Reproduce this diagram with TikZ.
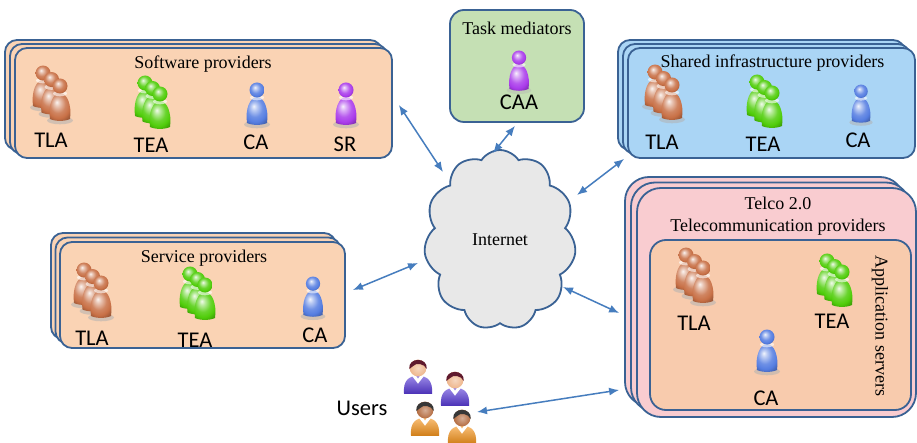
\documentclass[tikz,border=0pt]{standalone}
\usepackage{fontspec}
\setmainfont{Liberation Serif}
\newfontfamily\lblfont{Carlito}
\usetikzlibrary{arrows.meta,shadows,shapes.symbols,calc}

\definecolor{edge}{RGB}{58,98,148}
\definecolor{peach}{RGB}{250,211,180}
\definecolor{appfill}{RGB}{248,203,173}
\definecolor{mint}{RGB}{197,224,180}
\definecolor{sky}{RGB}{170,213,245}
\definecolor{rose}{RGB}{249,204,208}
\definecolor{cloudfill}{RGB}{232,232,232}
\definecolor{link}{RGB}{70,125,190}
\definecolor{tlabrown}{RGB}{200,112,70}
\definecolor{teagreen}{RGB}{80,205,10}
\definecolor{cablue}{RGB}{85,125,225}
\definecolor{srpurple}{RGB}{170,60,235}
\definecolor{shirtblue}{RGB}{88,58,215}
\definecolor{shirtorange}{RGB}{245,148,28}
\definecolor{hairred}{RGB}{95,25,45}
\definecolor{hairgrey}{RGB}{55,55,55}
\definecolor{skinlight}{RGB}{238,182,140}
\definecolor{skindark}{RGB}{180,108,65}
\colorlet{pawnc}{cablue}

% glossy sphere-like shading whose colour follows pawnc
\pgfdeclareradialshading[pawnc]{glossy}{\pgfpoint{-7bp}{9bp}}{%
  color(0bp)=(pawnc!8!white); color(6bp)=(pawnc!40!white);
  color(16bp)=(pawnc!85!white); color(24bp)=(pawnc);
  color(30bp)=(pawnc!80!black); color(50bp)=(pawnc!65!black)}

\tikzset{
  panel/.style={draw=edge, line width=1.8pt, rounded corners=#1, inner sep=0pt},
  stack/.style n args={5}{
    copy shadow={shadow xshift=#1, shadow yshift=#2, fill=#5, draw=edge, line width=1.8pt},
    copy shadow={shadow xshift=#3, shadow yshift=#4, fill=#5, draw=edge, line width=1.8pt}},
  title/.style={font=\fontsize{18}{21}\selectfont, anchor=base, inner sep=0pt},
  tag/.style={font=\lblfont\fontsize{22.5}{24}\selectfont, anchor=base, inner sep=0pt},
  link/.style={draw=link, line width=1.5pt, >={Latex[length=10pt,width=8pt]}, <->},
  % single "pawn" agent figure; origin at the bottom centre of its body
  pawncol/.store in=\pawncol, pawncol=cablue,
  pawnshade/.store in=\pawnshade, pawnshade=0.55,
  trioDx/.store in=\trioDx, trioDx=8,
  trioDy/.store in=\trioDy, trioDy=6,
  pawn/.pic={
    \colorlet{pawnc}{\pawncol}
    \fill[white!70!black, opacity=\pawnshade] (0,1.5) ellipse [x radius=13, y radius=3.8];
    \shade[shading=glossy] (-10,0) .. controls (-12,-14) and (-7,-26) .. (0,-26)
        .. controls (7,-26) and (12,-14) .. (10,0) .. controls (5,2.5) and (-5,2.5) .. (-10,0) -- cycle;
    \fill[white, opacity=0.6] (0,-25.5) ellipse [x radius=7, y radius=2.8];
    \shade[shading=glossy] (0,-33) circle [radius=7.5];
  },
  % a team of three pawns, drawn back to front
  trio/.pic={
    \pic at ({-2*\trioDx},{-2*\trioDy}) {pawn};
    \pic at ({-\trioDx},{-\trioDy}) {pawn};
    \pic at (0,0) {pawn};
  },
  % user bust; origin at the centre of the head
  usershirt/.store in=\usershirt, usershirt=shirtblue,
  userhair/.store in=\userhair, userhair=hairred,
  userskin/.store in=\userskin, userskin=skinlight,
  user/.pic={
    \shade[top color=\usershirt!60!white, bottom color=\usershirt!85!black]
        (-12.5,23) .. controls (-13.5,11) and (-8,7) .. (0,7) .. controls (8,7) and (13.5,11) .. (12.5,23) -- cycle;
    \fill[white] (-5,7.5) -- (0,14) -- (5,7.5) -- (2.5,6) -- (0,9.5) -- (-2.5,6) -- cycle;
    \shade[inner color=\userskin!55!white, outer color=\userskin] (0,0) circle [radius=7.5];
    \fill[\userhair] (-7.8,1) .. controls (-9,-10) and (9,-10) .. (7.8,1)
        .. controls (6,-4) and (-2,-5) .. (-4,-2) .. controls (-5,-1) and (-7,0) .. (-7.8,1) -- cycle;
  },
}

\begin{document}
\begin{tikzpicture}[x=1pt,y=-1pt]
\fill[white] (0,0) rectangle (917,443);
\useasboundingbox (0,0) rectangle (917,443);

% ---------- provider panels ----------
\node[panel=12pt, stack={-10pt}{8pt}{-5pt}{4pt}{peach}, fill=peach,
      minimum width=377pt, minimum height=110pt] (sw) at (203.5,103) {};
\node[panel=14pt, fill=mint, minimum width=134pt, minimum height=112pt] (task) at (517,66) {};
\node[panel=12pt, stack={-10pt}{8pt}{-5pt}{4pt}{sky}, fill=sky,
      minimum width=287pt, minimum height=110pt] (shared) at (771.5,103) {};
\node[panel=12pt, stack={-9pt}{9pt}{-4.5pt}{4.5pt}{peach}, fill=peach,
      minimum width=285pt, minimum height=106pt] (svc) at (202.5,295) {};
\node[panel=24pt, stack={-12pt}{11pt}{-6pt}{5.5pt}{rose}, fill=rose,
      minimum width=279pt, minimum height=229pt] (telco) at (776.5,302.5) {};
\node[panel=16pt, fill=appfill, minimum width=261pt, minimum height=170pt] (apps) at (780.5,325) {};

% ---------- internet cloud ----------
\node[cloud, cloud puffs=11, cloud puff arc=115, aspect=0.86, draw=edge, fill=cloudfill,
      line width=1.8pt, minimum width=152pt, minimum height=180pt, inner sep=0pt,
      font=\fontsize{18}{21}\selectfont] (net) at (500,240) {Internet};

% ---------- titles ----------
\node[title] (swT) at (203,69) {Software providers};
\node[title] (taskT) at (517,35) {Task mediators};
\node[title] (sharedT) at (772.5,68) {Shared infrastructure providers};
\node[title] (svcT) at (204,263) {Service providers};
\node[title] (telcoT1) at (778,210) {Telco 2.0};
\node[title] (telcoT2) at (778,232) {Telecommunication providers};
\node[font=\fontsize{18}{21}\selectfont, rotate=-90, inner sep=0pt] (appsT) at (880,326) {Application servers};

% ---------- agents: software providers ----------
\pic[pawncol=tlabrown, scale=0.8, trioDx=10.6, trioDy=8.1] at (60,119) {trio};
\pic[pawncol=teagreen, pawnshade=0, scale=1.1, trioDx=6.8, trioDy=5] at (160,127) {trio};
\pic[pawncol=cablue] at (257,123) {pawn};
\pic[pawncol=srpurple] at (346,123) {pawn};
\node[tag] (swTLA) at (51,148) {TLA};
\node[tag] (swTEA) at (151,153) {TEA};
\node[tag] (swCA) at (256,150) {CA};
\node[tag] (swSR) at (345,152) {SR};

% ---------- agents: task mediators ----------
\pic[pawncol=srpurple, scale=0.95, pawnshade=0.35] at (519,89) {pawn};
\node[tag] (taskCAA) at (519,110) {CAA};

% ---------- agents: shared infrastructure ----------
\pic[pawncol=tlabrown, scale=0.8, trioDx=10.6, trioDy=8.1] at (672,118) {trio};
\pic[pawncol=teagreen, pawnshade=0, scale=1.1, trioDx=6.8, trioDy=5] at (772,126) {trio};
\pic[pawncol=cablue, scale=0.9] at (861,121) {pawn};
\node[tag] (shTLA) at (662,150) {TLA};
\node[tag] (shTEA) at (763,152) {TEA};
\node[tag] (shCA) at (858,148) {CA};

% ---------- agents: service providers ----------
\pic[pawncol=tlabrown, scale=0.8, trioDx=10.6, trioDy=8.1] at (101,316) {trio};
\pic[pawncol=teagreen, pawnshade=0, scale=1.1, trioDx=6.8, trioDy=5] at (205,318) {trio};
\pic[pawncol=cablue, scale=0.95] at (313,315) {pawn};
\node[tag] (svTLA) at (92,345) {TLA};
\node[tag] (svTEA) at (195,347) {TEA};
\node[tag] (svCA) at (315,342) {CA};

% ---------- agents: application servers ----------
\pic[pawncol=tlabrown, scale=0.8, trioDx=10.6, trioDy=8.1] at (703,301) {trio};
\pic[pawncol=teagreen, pawnshade=0, scale=1.1, trioDx=6.8, trioDy=5] at (842,305) {trio};
\pic[pawncol=cablue] at (767,370) {pawn};
\node[tag] (apTLA) at (694,330) {TLA};
\node[tag] (apTEA) at (832,328) {TEA};
\node[tag] (apCA) at (766,405) {CA};

% ---------- users ----------
\pic[scale=1.12, usershirt=shirtblue, userhair=hairred, userskin=skinlight] at (418,368) {user};
\pic[scale=1.12, usershirt=shirtblue, userhair=hairred, userskin=skinlight] at (455,380) {user};
\pic[scale=1.12, usershirt=shirtorange, userhair=hairgrey, userskin=skindark] at (425,410) {user};
\pic[scale=1.12, usershirt=shirtorange, userhair=hairgrey, userskin=skindark] at (462,418) {user};
\node[tag] (usersT) at (362,415) {Users};
\coordinate (usr) at (477,412);

% ---------- connections ----------
\draw[link] ($(sw.east)+(6,2)$) -- ($(net.center)+(-57,-68)$);
\draw[link] ($(task.south)+(-2,3)$) -- ($(net.center)+(-7,-87)$);
\draw[link] ($(shared.south west)+(-3,0)$) -- ($(net.center)+(77,-45)$);
\draw[link] ($(svc.east)+(7,-5)$) -- ($(net.center)+(-82,23)$);
\draw[link] ($(telco.west)+(-17,10.5)$) -- ($(net.center)+(63,47)$);
\draw[link] ($(telco.west)+(-17,87.5)$) -- (usr);
\end{tikzpicture}
\end{document}
